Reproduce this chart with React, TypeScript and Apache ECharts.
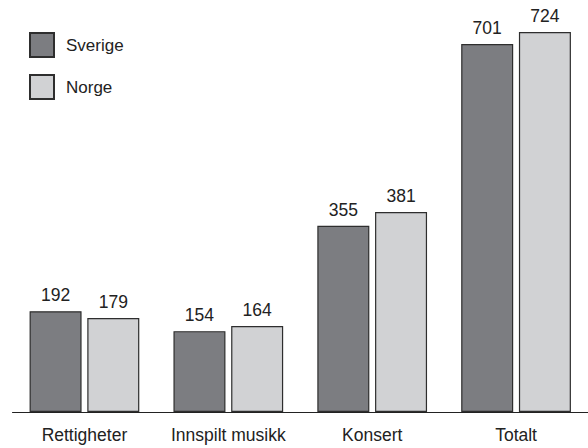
import React, { useEffect, useRef } from "react";
import * as echarts from "echarts";

const categories = ["Rettigheter", "Innspilt musikk", "Konsert", "Totalt"];
const sverige = [192, 154, 355, 701];
const norge = [179, 164, 381, 724];
const seriesNames = ["Sverige", "Norge"];

const FONT = "'Liberation Sans', Arial, Helvetica, sans-serif";

export default function App() {
  const ref = useRef<HTMLDivElement>(null);
  useEffect(() => {
    if (!ref.current) return;
    const chart = echarts.init(ref.current, undefined, { renderer: "svg" });
    const label = {
      show: true,
      position: "top",
      distance: 7,
      fontSize: 17.5,
      color: "#222",
      fontFamily: FONT,
    };
    chart.setOption({
      animation: false,
      backgroundColor: "#fff",
      legend: {
        orient: "vertical",
        left: 29,
        top: 32,
        padding: 0,
        itemWidth: 24,
        itemHeight: 24,
        itemGap: 16,
        icon: "rect",
        textStyle: { fontSize: 17, color: "#222", fontFamily: FONT, padding: [0, 0, 0, 7] },
        data: seriesNames,
      },
      grid: { left: 12.5, width: 576, top: 0, bottom: 36, containLabel: false },
      xAxis: {
        type: "category",
        data: categories,
        axisLine: { show: true, lineStyle: { color: "#222", width: 1 } },
        axisTick: { show: false },
        axisLabel: { interval: 0, fontSize: 17.5, color: "#222", fontFamily: FONT, margin: 14 },
      },
      yAxis: {
        type: "value",
        min: 0,
        max: 785,
        show: false,
        splitLine: { show: false },
      },
      series: [
        {
          name: seriesNames[0],
          type: "bar",
          data: sverige,
          barWidth: 52,
          barGap: "11%",
          itemStyle: { color: "#7c7d81", borderColor: "#2e2e2e", borderWidth: 1.2 },
          label,
        },
        {
          name: seriesNames[1],
          type: "bar",
          data: norge,
          barWidth: 52,
          itemStyle: { color: "#d1d2d4", borderColor: "#2e2e2e", borderWidth: 1.2 },
          label,
        },
      ],
    });
    return () => chart.dispose();
  }, []);
  return <div ref={ref} style={{ width: 588, height: 448, position: "absolute", left: 0, top: 0 }} />;
}
